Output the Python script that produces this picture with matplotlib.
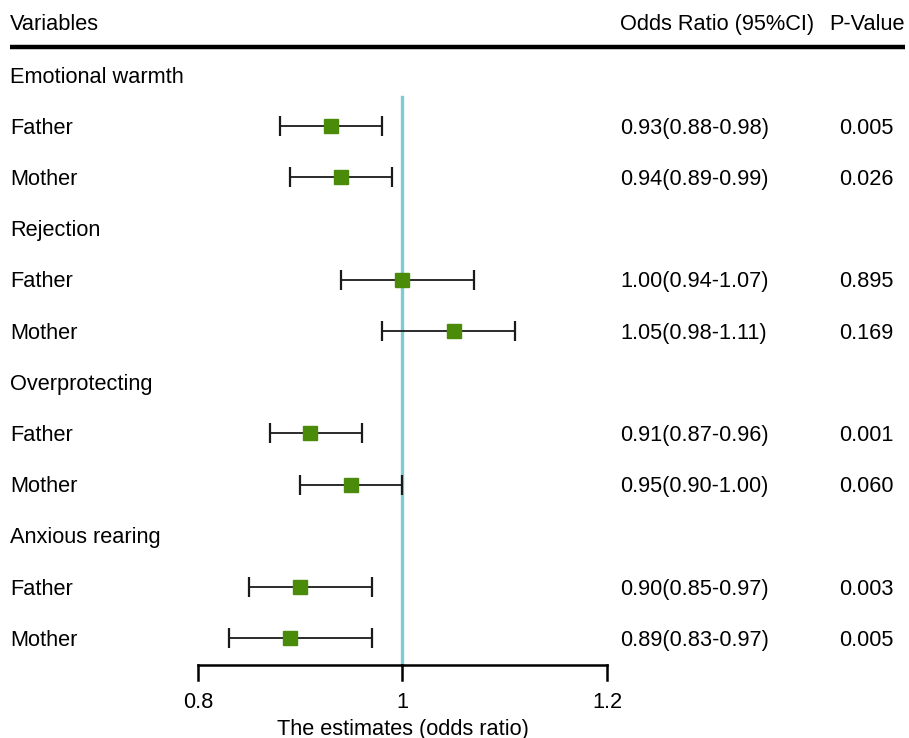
import matplotlib.pyplot as plt

plt.rcParams['font.family'] = ['Liberation Sans', 'DejaVu Sans']

# data
groups = ["Emotional warmth", "Rejection", "Overprotecting", "Anxious rearing"]
members = ["Father", "Mother"]
odds = [0.93, 0.94, 1.00, 1.05, 0.91, 0.95, 0.90, 0.89]
lower = [0.88, 0.89, 0.94, 0.98, 0.87, 0.90, 0.85, 0.83]
upper = [0.98, 0.99, 1.07, 1.11, 0.96, 1.00, 0.97, 0.97]
or_text = ["0.93(0.88-0.98)", "0.94(0.89-0.99)", "1.00(0.94-1.07)", "1.05(0.98-1.11)",
           "0.91(0.87-0.96)", "0.95(0.90-1.00)", "0.90(0.85-0.97)", "0.89(0.83-0.97)"]
p_text = ["0.005", "0.026", "0.895", "0.169", "0.001", "0.060", "0.003", "0.005"]
xticks = [0.8, 1.0, 1.2]
xtick_labels = ["0.8", "1", "1.2"]

fig = plt.figure(figsize=(9.09, 7.38), dpi=100)
ax = fig.add_axes([0, 0, 1, 1])
# x in odds-ratio units, y in row units (row 1 = first group heading)
ppu = 1022.5
ax.set_xlim(0.8 - 198 / ppu, 0.8 + (909 - 198) / ppu)
ax.set_ylim((738 - 75) / 51.2 + 1, (0 - 75) / 51.2 + 1)
ax.axis("off")

def xpix(p):
    return 0.8 + (p - 198) / ppu

fs = 15.7
x_lab = xpix(10)
x_or = xpix(620)
x_p = xpix(866)
dy = 2 / 51.2  # small downward shift of text to match baseline

# header
ax.text(x_lab, (22 - 75) / 51.2 + 1 + dy, "Variables", fontsize=fs, va="center", ha="left")
ax.text(x_or, (22 - 75) / 51.2 + 1 + dy, "Odds Ratio (95%CI)", fontsize=fs, va="center", ha="left")
ax.text(xpix(905), (22 - 75) / 51.2 + 1 + dy, "P-Value", fontsize=fs, va="center", ha="right")
ax.plot([xpix(10), xpix(905)], [(47 - 75) / 51.2 + 1] * 2, color="black", lw=3.2,
        solid_capstyle="butt")

row = 1
rows_est = []
for g in groups:
    ax.text(x_lab, row + dy, g, fontsize=fs, va="center", ha="left")
    row += 1
    for m in members:
        ax.text(x_lab, row + dy, m, fontsize=fs, va="center", ha="left")
        rows_est.append(row)
        row += 1

y_axis = (665 - 75) / 51.2 + 1
ax.plot([1.0, 1.0], [(97 - 75) / 51.2 + 1, y_axis], color="#7ecbd3", lw=2.4, zorder=1)

for i, y in enumerate(rows_est):
    ax.errorbar(odds[i], y, xerr=[[odds[i] - lower[i]], [upper[i] - odds[i]]],
                fmt="none", ecolor="#1a1a1a", elinewidth=1.3, capsize=7.5, capthick=1.6,
                zorder=2)
    ax.plot(odds[i], y, marker="s", ms=10.5, color="#4a8c0a", zorder=3)
    ax.text(x_or, y + dy, or_text[i], fontsize=fs, va="center", ha="left")
    ax.text(x_p, y + dy, p_text[i], fontsize=fs, va="center", ha="center")

# bottom axis
tick_len = 15 / 51.2
ax.plot([xticks[0], xticks[-1]], [y_axis, y_axis], color="black", lw=1.8,
        solid_capstyle="projecting")
for t, lab in zip(xticks, xtick_labels):
    ax.plot([t, t], [y_axis, y_axis + tick_len], color="black", lw=1.8)
    ax.text(t, (700 - 75) / 51.2 + 1 + dy, lab, fontsize=fs, va="center", ha="center")
ax.text(1.0, (727 - 75) / 51.2 + 1 + dy, "The estimates (odds ratio)", fontsize=fs,
        va="center", ha="center")

fig.savefig("out.png", dpi=100)
